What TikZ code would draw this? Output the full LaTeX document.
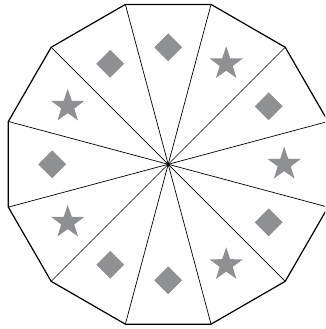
\documentclass[tikz,border=0pt]{standalone}
\usetikzlibrary{shapes.geometric}
\definecolor{shapegray}{RGB}{143,144,147}
\tikzset{
  outline/.style={line width=1.2pt, line join=miter},
  spoke/.style={line width=0.7pt},
  dia/.style={diamond, aspect=1, fill=shapegray, inner sep=0pt, minimum size=28pt},
  stardot/.style={star, star points=5, star point ratio=2.55, fill=shapegray, inner sep=0pt, minimum size=35pt}
}
\begin{document}
\begin{tikzpicture}
\useasboundingbox (-168.2pt,-164.7pt) rectangle (156.8pt,164.3pt);
\clip (-168.2pt,-164.7pt) rectangle (156.8pt,164.3pt);
\coordinate (c) at (0,0);
\foreach \k in {0,...,11} {
  \coordinate (v\k) at ({15+30*\k}:165.5pt);
}
\foreach \k in {0,...,11} {
  \draw[spoke] (c) -- (v\k);
}
\draw[outline] (v0) -- (v1) -- (v2) -- (v3) -- (v4) -- (v5) -- (v6) -- (v7) -- (v8) -- (v9) -- (v10) -- (v11) -- cycle;
\fill (c) circle (1.8pt);
\node[stardot] (s0) at (0:116pt) {};
\node[dia] (d30) at (30:116pt) {};
\node[stardot] (s60) at (60:116pt) {};
\node[dia] (d90) at (90:117pt) {};
\node[dia] (d120) at (120:116pt) {};
\node[stardot] (s150) at (150:116pt) {};
\node[dia] (d180) at (180:116pt) {};
\node[stardot] (s210) at (210:116pt) {};
\node[dia] (d240) at (240:116pt) {};
\node[dia] (d270) at (270:116pt) {};
\node[stardot] (s300) at (300:116pt) {};
\node[dia] (d330) at (330:116pt) {};
\end{tikzpicture}
\end{document}
